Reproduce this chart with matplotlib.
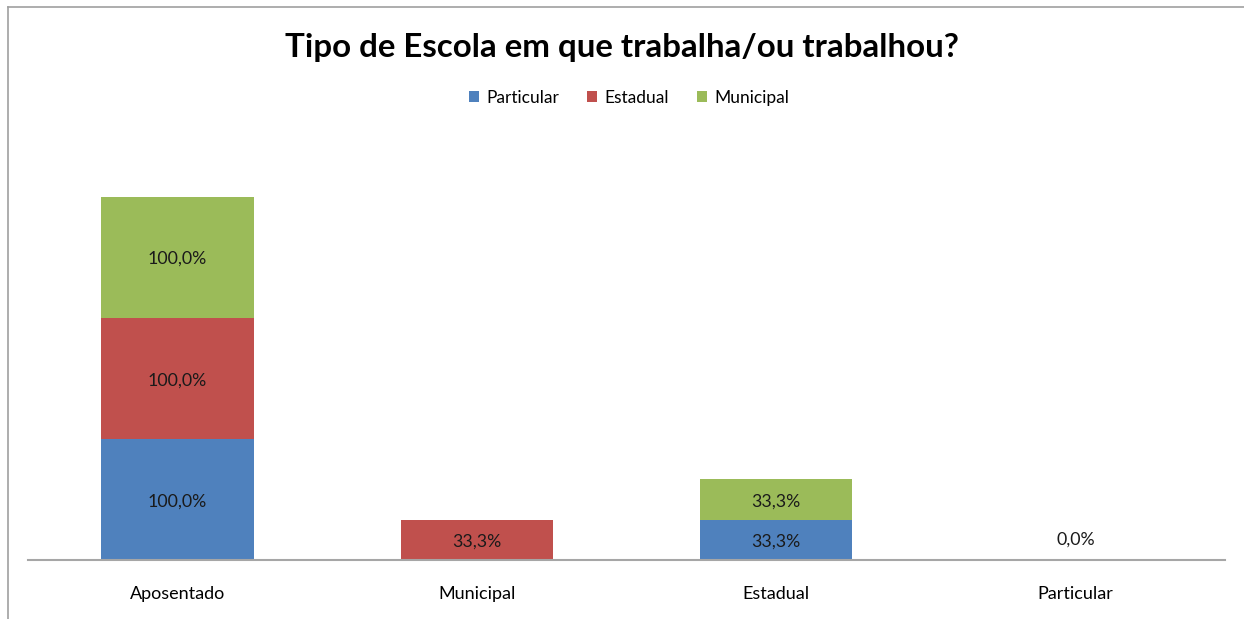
import matplotlib.pyplot as plt
import numpy as np

# Data (percent)
categories = ['Aposentado', 'Municipal', 'Estadual', 'Particular']
series_names = ['Particular', 'Estadual', 'Municipal']
particular = [100.0, np.nan, 33.3, 0.0]
estadual = [100.0, 33.3, np.nan, np.nan]
municipal = [100.0, np.nan, 33.3, np.nan]
colors = ['#4F81BD', '#C0504D', '#9BBB59']

plt.rcParams['font.family'] = ['Lato', 'DejaVu Sans']

fig = plt.figure(figsize=(12.44, 6.19), dpi=100)
ax = fig.add_axes([28 / 1244, 1 - 560 / 619, 1197 / 1244, 430 / 619])

x = np.arange(len(categories))
bottom = np.zeros(len(categories))
for name, vals, col in zip(series_names, [particular, estadual, municipal], colors):
    vals = np.array(vals)
    h = np.nan_to_num(vals)
    ax.bar(x, h, 0.51, bottom=bottom, color=col, label=name)
    for xi, v, b in zip(x, vals, bottom):
        if np.isnan(v):
            continue
        y = b + v / 2 if v > 0 else b + 18
        ax.text(xi, y - 1.5, f'{v:.1f}%'.replace('.', ','), ha='center', va='center',
                fontsize=12.8, color='#1a1a1a')
    bottom += h

ax.set_xlim(-0.5, 3.5)
ax.set_ylim(0, 355)
ax.set_yticks([])
ax.set_xticks(x)
ax.set_xticklabels(categories, fontsize=13)
ax.tick_params(axis='x', length=0, pad=19)
for s in ['top', 'right', 'left']:
    ax.spines[s].set_visible(False)
ax.spines['bottom'].set_color('#a6a6a6')
ax.spines['bottom'].set_linewidth(1.5)

fig.text(0.5, 1 - 48 / 619, 'Tipo de Escola em que trabalha/ou trabalhou?',
         ha='center', va='center', fontsize=23.8, fontweight='bold')
fig.legend(loc='center', bbox_to_anchor=(629 / 1244, 1 - 98 / 619), ncol=3,
           frameon=False, fontsize=12.5, handlelength=0.6, handleheight=0.6,
           columnspacing=1.6, handletextpad=0.4)

# chart border (left and top visible)
fig.add_artist(plt.Line2D([8 / 1244, 8 / 1244], [0, 1 - 7 / 619], color='#a0a0a0', lw=1.2))
fig.add_artist(plt.Line2D([8 / 1244, 1], [1 - 7 / 619, 1 - 7 / 619], color='#a0a0a0', lw=1.2))

fig.savefig('out.png', dpi=100)
